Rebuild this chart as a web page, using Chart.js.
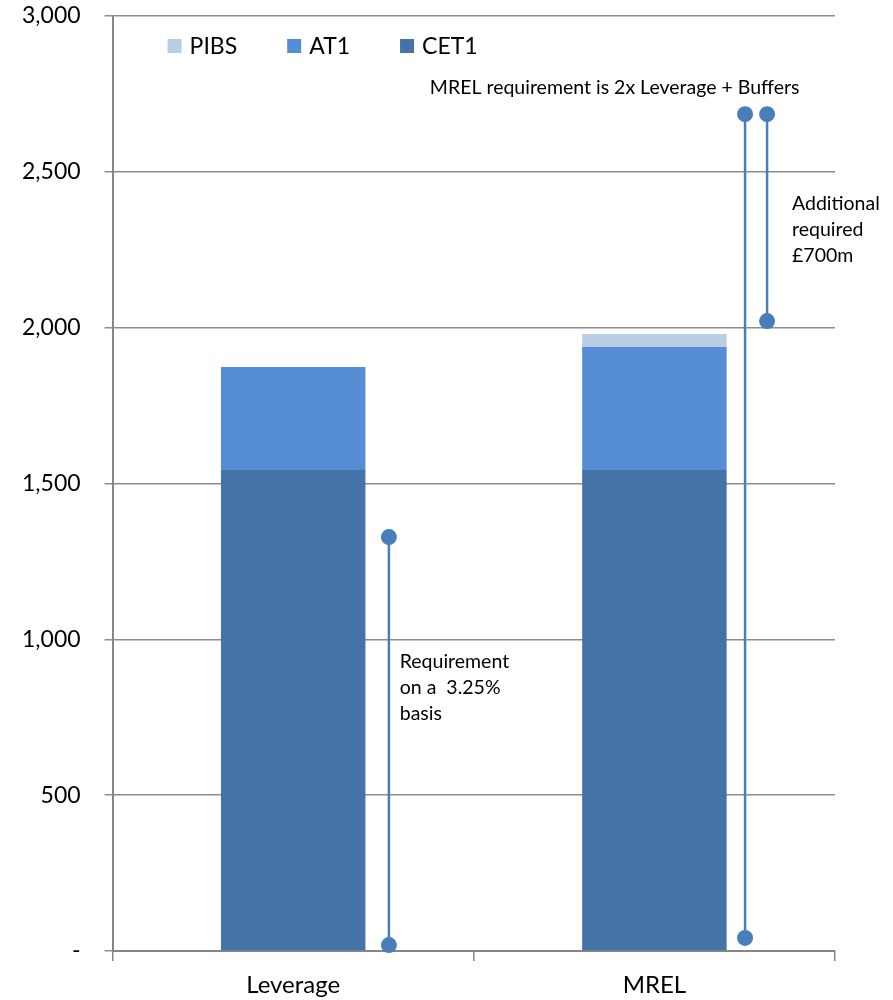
<!DOCTYPE html>
<html>
<head>
<meta charset="utf-8">
<script src="https://cdn.jsdelivr.net/npm/chart.js@4/dist/chart.umd.min.js"></script>
<style>
html,body{margin:0;padding:0;background:#fff;}
#wrap{width:893px;height:1000px;position:relative;}
</style>
</head>
<body>
<div id="wrap"><canvas id="c" width="893" height="1000"></canvas></div>
<script>
// ---- data ----
const categories = ['Leverage', 'MREL'];
const cet1 = [1543, 1543];
const at1 = [331, 395];
const pibs = [0, 42];
const yTicks = [0, 500, 1000, 1500, 2000, 2500, 3000];

// requirement markers (x in category units, 0..2 across the axis)
const leverageReqX = [0.765, 0.765];
const leverageReqY = [1328, 19];
const mrelReqX = [1.751, 1.751];
const mrelReqY = [2685, 42];
const additionalX = [1.812, 1.812];
const additionalY = [2685, 2021];

const notes = [
  {lines: ['MREL requirement is 2x Leverage + Buffers'], x: 1.39, y: 2769, align: 'center'},
  {lines: ['Additional', 'required', '£700m'], x: 1.881, y: 2397, align: 'left'},
  {lines: ['Requirement', 'on a  3.25%', 'basis'], x: 0.795, y: 927, align: 'left'}
];

const FONT = 'Lato, "Open Sans", sans-serif';
const lineColor = '#4a7ebb';

function pts(xs, ys){ return xs.map((x,i)=>({x:x, y:ys[i]})); }
function lineDs(label, xs, ys){
  return {type:'line', label:label, data:pts(xs,ys), xAxisID:'xl', yAxisID:'yl',
    borderColor:lineColor, backgroundColor:lineColor, borderWidth:2.5,
    pointRadius:8, pointHoverRadius:8, pointBackgroundColor:lineColor, pointBorderWidth:0,
    showLine:true, fill:false, tension:0, order:0, clip:false};
}

const legendPlugin = {
  id:'customLegend',
  afterDraw(chart){
    const ctx = chart.ctx;
    const area = chart.chartArea;
    const items = chart.data.datasets.filter(d=>d.type!=='line').slice().reverse();
    ctx.save();
    ctx.font = '23px ' + FONT;
    ctx.textBaseline = 'middle';
    let x = area.left + 55;
    const y = area.top + 30;
    items.forEach(d=>{
      ctx.fillStyle = d.backgroundColor;
      ctx.fillRect(x, y-7, 14, 14);
      ctx.fillStyle = '#000';
      ctx.textAlign = 'left';
      ctx.fillText(d.label, x+22, y+1);
      x += 22 + ctx.measureText(d.label).width + 50;
    });
    // notes
    const xs = chart.scales.xl, ys = chart.scales.yl;
    ctx.font = '19.5px ' + FONT;
    ctx.fillStyle = '#000';
    notes.forEach(n=>{
      const px = xs.getPixelForValue(n.x);
      let py = ys.getPixelForValue(n.y);
      ctx.textAlign = n.align;
      n.lines.forEach(t=>{ ctx.fillText(t, px, py); py += 26; });
    });
    ctx.restore();
  }
};

new Chart(document.getElementById('c'), {
  type:'bar',
  data:{
    labels:categories,
    datasets:[
      {label:'CET1', data:cet1, backgroundColor:'#4573a7', grouped:false, order:1},
      {label:'AT1', data:at1, backgroundColor:'#558ed5', grouped:false, order:1},
      {label:'PIBS', data:pibs, backgroundColor:'#b9cde5', grouped:false, order:1},
      lineDs('Leverage requirement', leverageReqX, leverageReqY),
      lineDs('MREL requirement', mrelReqX, mrelReqY),
      lineDs('Additional required', additionalX, additionalY)
    ]
  },
  options:{
    responsive:false,
    animation:false,
    events:[],
    layout:{autoPadding:false, padding:{left:-2, right:58, top:0, bottom:0}},
    datasets:{bar:{categoryPercentage:1, barPercentage:0.4}},
    plugins:{legend:{display:false}, tooltip:{enabled:false}},
    scales:{
      x:{
        stacked:true, offset:true,
        afterFit(s){ s.height = 49; },
        grid:{offset:true, drawOnChartArea:false, drawTicks:true, tickLength:10, color:'#868686', lineWidth:1.5},
        border:{color:'#868686', width:2},
        ticks:{color:'#000', font:{family:FONT, size:24}, padding:10}
      },
      y:{
        stacked:true, min:0, max:3000,
        afterBuildTicks(s){ s.ticks = yTicks.map(v=>({value:v})); },
        afterFit(s){ s.paddingTop = 16; s.paddingBottom = 0; },
        grid:{color:'#8c8c8c', lineWidth:1.5, tickLength:8},
        border:{color:'#868686', width:2},
        ticks:{color:'#000', font:{family:FONT, size:23}, padding:24,
          callback:(v)=> v===0 ? '-' : v.toLocaleString('en-US')}
      },
      xl:{type:'linear', min:0, max:2, display:false, offset:false, grid:{offset:false}},
      yl:{type:'linear', min:0, max:3000, display:false, offset:false}
    }
  },
  plugins:[legendPlugin]
});
</script>
</body>
</html>
